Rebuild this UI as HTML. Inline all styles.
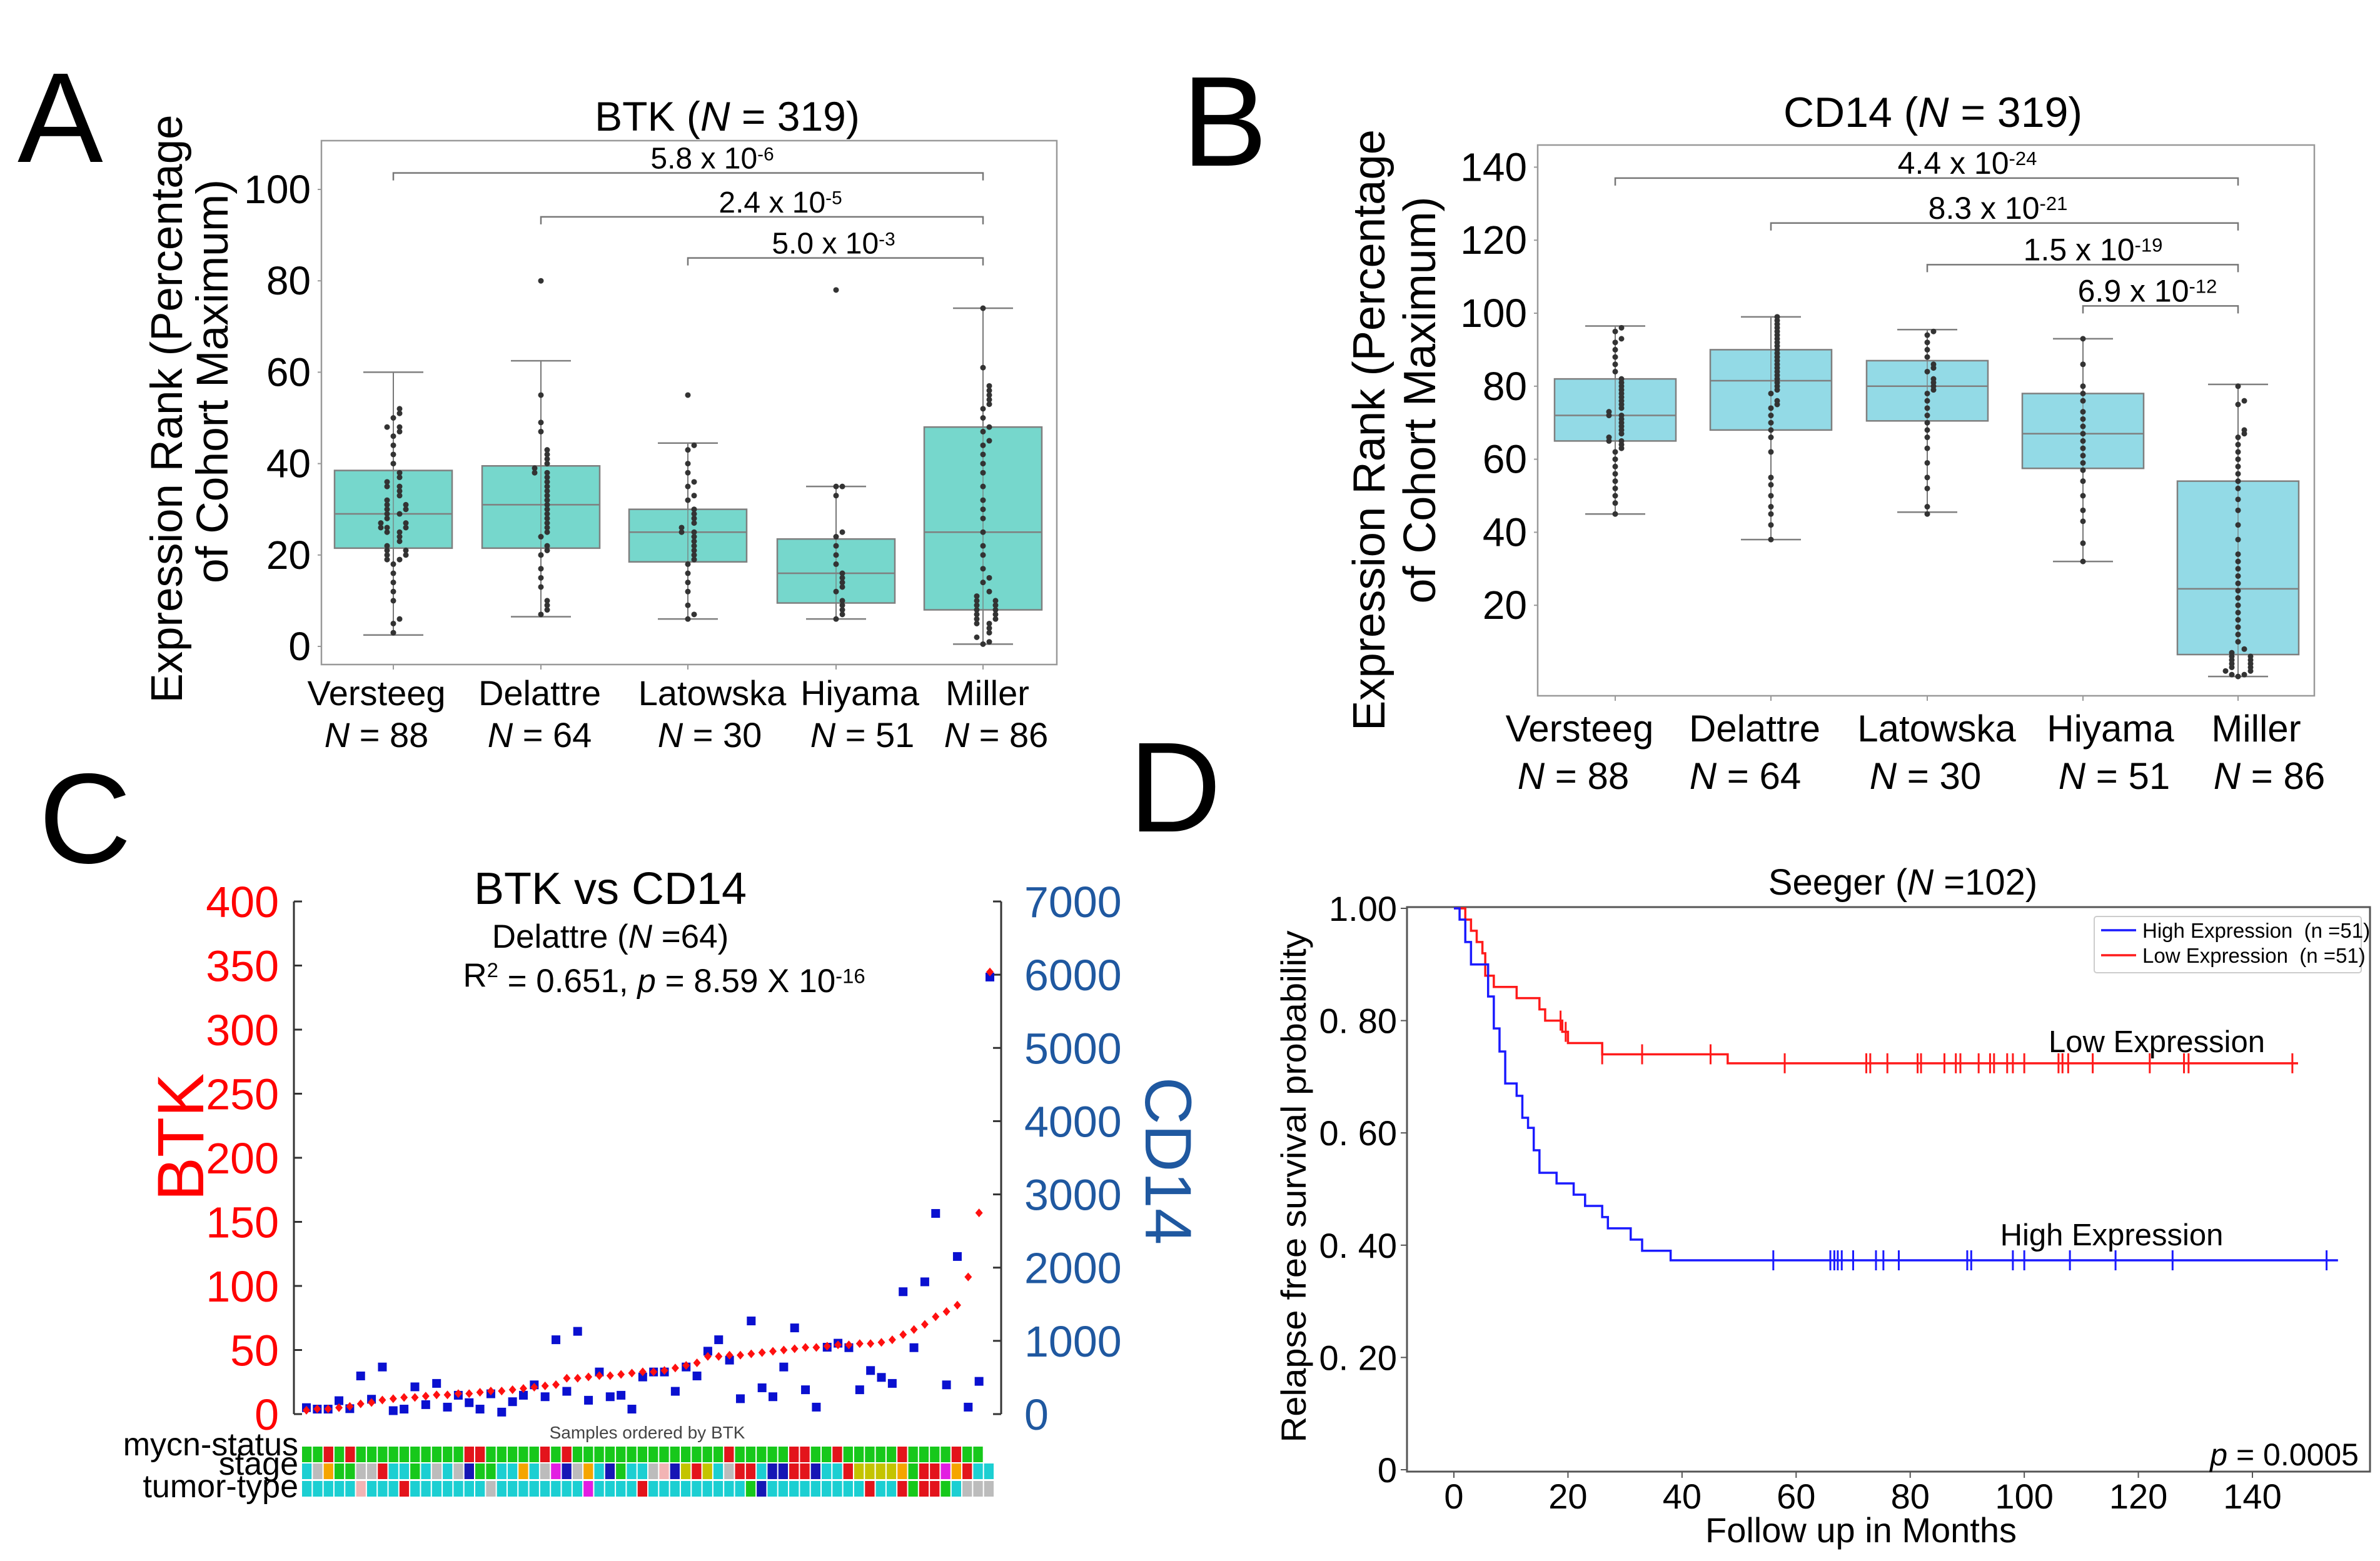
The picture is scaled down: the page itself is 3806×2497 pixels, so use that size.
<!DOCTYPE html>
<html><head><meta charset="utf-8"><style>
html,body{margin:0;padding:0;background:#fff}
svg{display:block;font-family:"Liberation Sans",Arial,sans-serif}
</style></head><body>
<svg id="root" xmlns="http://www.w3.org/2000/svg" width="3806" height="2497" viewBox="0 0 3806 2497">
<rect width="3806" height="2497" fill="#fff"/>
</svg>
<script>
// ---------- Panel A data ----------
const aCats = ["Versteeg","Delattre","Latowska","Hiyama","Miller"];
const aNs = ["88","64","30","51","86"];
const aQ1 = [21.5,21.5,18.5,9.5,8];
const aMed = [29,31,25,16,25];
const aQ3 = [38.5,39.5,30,23.5,48];
const aLo = [2.5,6.5,6,6,0.5];
const aHi = [60,62.5,44.5,35,74];
const aYTicks = [0,20,40,60,80,100];
const aDots = [
 [3,5,6,10,12,14,16,18,19,19,20,20,21,21,22,23,24,25,25,26,26,26,27,27,28,29,29,30,30,31,31,32,33,34,35,35,36,37,38,40,42,44,46,47,48,48,50,51,52],
 [7,8,9,10,13,15,17,20,21,22,24,25,26,27,28,29,30,31,32,33,34,35,36,37,38,38,39,40,41,42,43,47,49,55,80],
 [6,7,9,12,14,16,18,19,20,21,22,23,24,25,25,26,27,28,29,30,32,33,35,36,38,40,43,44,55],
 [6,7,8,9,10,12,13,14,15,16,18,20,22,24,25,33,35,35,78],
 [0.5,1,2,3,4,5,5,6,6,7,7,8,8,9,9,10,10,11,12,14,15,17,20,22,25,28,30,32,35,38,40,42,44,45,47,48,50,52,53,54,55,56,57,61,74]
];
const aBrFrom = [0,1,2];
const aBrTo = [4,4,4];
const aBrY = [103.6,94,85];
const aBrMant = ["5.8","2.4","5.0"];
const aBrExp = ["-6","-5","-3"];
// ---------- Panel B data ----------
const bQ1 = [65,68,70.5,57.5,6.5];
const bMed = [72,81.5,80,67,24.5];
const bQ3 = [82,90,87,78,54];
const bLo = [45,38,45.5,32,0.5];
const bHi = [96.5,99,95.5,93,80.5];
const bYTicks = [20,40,60,80,100,120,140];
const bDots = [
 [45,48,50,52,54,56,58,60,62,63,64,65,65,66,67,68,69,70,71,72,72,73,74,75,76,77,78,79,80,81,82,84,86,88,90,92,93,95,96],
 [38,42,45,47,50,53,55,62,66,68,70,72,74,75,76,78,79,80,81,82,83,84,85,86,87,88,89,90,91,92,93,94,95,96,97,98,99],
 [45,47,52,55,59,63,66,68,70,72,74,76,78,79,80,81,82,84,85,86,88,90,92,94,95],
 [32,37,43,46,50,54,57,59,61,63,65,67,69,71,73,76,78,80,86,93],
 [0.5,1,1,2,2,3,3,4,4,5,5,6,6,7,8,10,12,14,16,18,20,22,24,26,28,30,32,34,38,42,46,49,52,54,56,58,60,62,64,66,67,68,75,76,80]
];
const bBrFrom = [0,1,2,3];
const bBrY = [137,124.7,113.3,102];
const bBrMant = ["4.4","8.3","1.5","6.9"];
const bBrExp = ["-24","-21","-19","-12"];
// ---------- Panel C data ----------
const cBTK = [3,4,4,5,6,8,9,11,12,13,13,14,15,15,16,16,17,18,18,19,20,21,22,23,28,28,29,30,30,31,32,33,33,34,36,38,40,45,45,46,46,47,48,49,50,51,52,52,53,54,54,55,55,56,58,62,66,70,76,80,85,107,157,345];
const cCD14 = [88,68,68,183,74,521,203,643,47,68,372,129,419,95,257,156,68,277,27,169,257,399,237,1015,311,1130,189,575,237,257,68,507,575,575,311,643,521,859,1015,737,210,1272,359,237,643,1177,332,95,913,968,907,332,595,501,419,1671,907,1806,2740,399,2152,95,447,5968];
const cBTKTicks = [0,50,100,150,200,250,300,350,400];
const cCD14Ticks = [0,1000,2000,3000,4000,5000,6000,7000];
const cMycn  = "ggrgrggggggggggrrgggggrgrggggggggggggggrgggggrrggrgggggrggggrgg";
const cStage = "caoggaarccgcacabggccocambaocbgccapbyrycarrcbbrrbccryyyyogrrmorcc";
const cTumor = "cccccpcccrcccccccaccccccccmccccrcccccccccgbcccccccccrccrgrrgcaaa";
// ---------- Panel D data ----------
const dLowT = [2,3,4,5,5.5,7,11,15,16,19,20,26,48];
const dLowS = [0.98,0.96,0.94,0.92,0.88,0.86,0.84,0.82,0.80,0.78,0.76,0.74,0.724];
const dLowEnd = 148;
const dLowCens = [18.7,19.6,26,33,45,58,72.3,73,76,81.3,81.9,86,88,88.8,92,94,94.7,97,98,100,106,106.7,107.7,112,122,128,128.8,147];
const dHighT = [1,2,3,6,7,8,9,11,12,13,14,15,18,21,23,26,27,31,33,38];
const dHighS = [0.98,0.94,0.90,0.843,0.786,0.745,0.688,0.666,0.627,0.609,0.569,0.529,0.51,0.49,0.47,0.45,0.43,0.41,0.39,0.373];
const dHighEnd = 155;
const dHighCens = [56,66,66.7,67.3,68,70,74,75.3,78,90,90.7,98,100,108,116,126,153];
const dXTicks = [0,20,40,60,80,100,120,140];
const dYTicks = [0,0.2,0.4,0.6,0.8,1.0];
const dYLabels = ["0","0. 20","0. 40","0. 60","0. 80","1.00"];

const NS="http://www.w3.org/2000/svg";
const root=document.getElementById('root');
function mk(tag,attrs,parent){const e=document.createElementNS(NS,tag);for(const k in attrs)e.setAttribute(k,attrs[k]);(parent||root).appendChild(e);return e;}
function tx(x,y,html,size,anchor,fill,rot,parent){
  const e=mk('text',{x:x,y:y,'font-size':size,'text-anchor':anchor||'start',fill:fill||'#000'},parent);
  if(rot)e.setAttribute('transform','rotate('+rot+' '+x+' '+y+')');
  e.innerHTML=html;return e;}
const sup=(s)=>'<tspan dy="-0.45em" font-size="0.62em">'+s+'</tspan>';

// ---------- Box panels ----------
function boxPanel(p){
  const g=mk('g',{});
  
  
  const fr=mk('rect',{x:p.x0,y:p.y0,width:p.x1-p.x0,height:p.y1-p.y0,fill:'none',stroke:'#999','stroke-width':2.5},g);
  
  
  p.ticks.forEach(v=>{
    const t=tx(p.x0-17,p.y(v)+22,String(v),p.tickSize,'end','#000',0,g);
    
    
    mk('line',{x1:p.x0-6,x2:p.x0,y1:p.y(v),y2:p.y(v),stroke:'#999','stroke-width':2},g);
  });
  for(let i=0;i<5;i++){
    const cx=p.cx[i],hw=p.hw;
    mk('line',{x1:cx,x2:cx,y1:p.y1,y2:p.y1+8,stroke:'#999','stroke-width':2},g);
    const w=mk('line',{x1:cx,x2:cx,y1:p.y(p.lo[i]),y2:p.y(p.hi[i]),stroke:'#777','stroke-width':2},g);
    
    
    const b=mk('rect',{x:cx-hw,y:p.y(p.q3[i]),width:2*hw,height:p.y(p.q1[i])-p.y(p.q3[i]),fill:p.fill,stroke:'#7f7f7f','stroke-width':2.5},g);
    
    
    mk('line',{x1:cx,x2:cx,y1:p.y(p.q1[i]),y2:p.y(p.q3[i]),stroke:'#777','stroke-width':1.5,opacity:0.8},g);
    const m=mk('line',{x1:cx-hw,x2:cx+hw,y1:p.y(p.med[i]),y2:p.y(p.med[i]),stroke:'#7f7f7f','stroke-width':2.5},g);
    
    
    [p.lo[i],p.hi[i]].forEach(v=>mk('line',{x1:cx-48,x2:cx+48,y1:p.y(v),y2:p.y(v),stroke:'#7f7f7f','stroke-width':2.5},g));
    const placed=[];
    p.dots[i].forEach(v=>{
      let k=placed.filter(u=>Math.abs(u-v)<1.6).length;placed.push(v);
      const off=(k%2?1:-1)*Math.ceil(k/2)*10;
      const d=mk('circle',{cx:cx+off,cy:p.y(v),r:4.5,fill:'#333'},g);
      
      
    });
    const l1=tx(p.lx1[i],p.lb1,aCats[i],p.labSize,'middle','#000',0,g);
    
    
    const l2=tx(p.lx2[i],p.lb2,'<tspan font-style="italic">N</tspan> = '+aNs[i],p.labSize,'middle','#000',0,g);
    
    
  }
  p.br.forEach((br,j)=>{
    const yy=p.y(br.v),xa=p.cx[br.f],xb=p.cx[br.t];
    const pl=mk('polyline',{points:xa+','+(yy+12)+' '+xa+','+yy+' '+xb+','+yy+' '+xb+','+(yy+12),fill:'none',stroke:'#777','stroke-width':2.5},g);
    
    
    const t=tx(br.lx,yy-7,br.m+' x 10'+sup(br.e),p.brSize,'middle','#000',0,g);
    
    
  });
  const ti=tx(p.tx,p.ty,p.title,p.titleSize,'middle','#000',0,g);
  
  
  const y1=tx(p.yl1x,p.yl1c,'Expression Rank (Percentage',p.ylSize,'middle','#000',-90,g);
  y1.setAttribute('textLength',p.yl1len);y1.setAttribute('lengthAdjust','spacingAndGlyphs');
  
  
  const y2=tx(p.yl2x,p.yl2c,'of Cohort Maximum)',p.ylSize,'middle','#000',-90,g);
  y2.setAttribute('textLength',p.yl2len);y2.setAttribute('lengthAdjust','spacingAndGlyphs');
  
  
}
const aY=v=>1034-7.31*v;
boxPanel({name:'panel-a-btk-boxplot',x0:514,x1:1690,y0:225,y1:1063,y:aY,ticks:aYTicks,tickSize:64,cx:[629,865,1100,1337,1572],hw:94,
 q1:aQ1,med:aMed,q3:aQ3,lo:aLo,hi:aHi,dots:aDots,fill:'#76d7cc',
 lx1:[602,863,1139,1375,1579],lx2:[602,863,1135,1379,1593],lb1:1128,lb2:1195,labSize:56,
 br:aBrFrom.map((f,j)=>({f:f,t:aBrTo[j],v:aBrY[j],m:aBrMant[j],e:aBrExp[j],lx:[1139,1248,1333][j]})),brSize:48,
 title:'BTK (<tspan font-style="italic">N</tspan> = 319)',tx:1163,ty:209,titleSize:66,
 yl1x:291,yl1c:654,yl1len:941,yl2x:364,yl2c:610,yl2len:646,ylSize:71});
const bY=v=>1085-5.84*v;
boxPanel({name:'panel-b-cd14-boxplot',x0:2459,x1:3701,y0:232,y1:1113,y:bY,ticks:bYTicks,tickSize:64,cx:[2583,2832,3082,3331,3579],hw:97,
 q1:bQ1,med:bMed,q3:bQ3,lo:bLo,hi:bHi,dots:bDots,fill:'#93dae6',
 lx1:[2526,2806,3097,3375,3608],lx2:[2516,2791,3079,3381,3629],lb1:1186,lb2:1262,labSize:60,
 br:bBrFrom.map((f,j)=>({f:f,t:4,v:bBrY[j],m:bBrMant[j],e:bBrExp[j],lx:[3146,3195,3347,3434][j]})),brSize:50,
 title:'CD14 (<tspan font-style="italic">N</tspan> = 319)',tx:3091,ty:203,titleSize:68,
 yl1x:2214,yl1c:688,yl1len:962,yl2x:2295,yl2c:640,yl2len:651,ylSize:72});

// ---------- Panel letters ----------
[['A',28,259],['B',1890,265],['C',62,1380],['D',1805,1330]].forEach(a=>{
  const t=tx(a[1],a[2],a[0],205,'start','#000');
  
  
});

// ---------- Panel C ----------
(function(){
  const g=mk('g',{});
  
  
  const X0=470,X1=1601,Y0=1442,Y1=2262;
  const yB=v=>Y1-v*(Y1-Y0)/400, yC=v=>Y1-v*(Y1-Y0)/7000;
  const xi=i=>490+i*(1583-490)/(cBTK.length-1);
  const la=mk('line',{x1:X0,x2:X0,y1:Y0,y2:Y1,stroke:'#333','stroke-width':3},g);
  
  
  const ra=mk('line',{x1:X1,x2:X1,y1:Y0,y2:Y1,stroke:'#333','stroke-width':3},g);
  
  
  cBTKTicks.forEach(v=>{
    mk('line',{x1:X0,x2:X0+13,y1:yB(v),y2:yB(v),stroke:'#333','stroke-width':3},g);
    const t=tx(446,yB(v)+25,String(v),70,'end','#ff0000',0,g);
    
    
  });
  cCD14Ticks.forEach(v=>{
    mk('line',{x1:X1,x2:X1-13,y1:yC(v),y2:yC(v),stroke:'#333','stroke-width':3},g);
    const t=tx(1638,yC(v)+25,String(v),70,'start','#1f58a0',0,g);
    
    
  });
  cCD14.forEach((v,i)=>{
    const r=mk('rect',{x:xi(i)-7,y:yC(v)-7,width:14,height:14,fill:'#0a10d0'},g);
    
    
  });
  cBTK.forEach((v,i)=>{
    const c=mk('path',{d:'M'+xi(i)+' '+(yB(v)-7)+' l6 7 l-6 7 l-6 -7z',fill:'#ff1010'},g);
    
    
  });
  const t1=tx(976,1446,'BTK vs CD14',72,'middle','#000',0,g);
  
  
  const t2=tx(976,1516,'Delattre (<tspan font-style="italic">N</tspan> =64)',53,'middle','#000',0,g);
  
  
  const t3=tx(1062,1578,'R'+'<tspan dy="-0.45em" font-size="0.62em">2</tspan><tspan dy="0.45em"> = 0.651, </tspan><tspan font-style="italic">p</tspan> = 8.59 X 10'+sup('-16'),53,'middle','#000',0,g);
  
  
  const bl=tx(325,1819,'BTK',105,'middle','#ff0000',-90,g);
  
  
  const cl=tx(1832,1857,'CD14',105,'middle','#1f58a0',90,g);
  
  
  const so=tx(1035,2301,'Samples ordered by BTK',28,'middle','#444',0,g);
  
  
  const col={c:'#1ccfd2',g:'#17c81b',r:'#e3141b',a:'#bcbcbc',o:'#f5a500',b:'#1616b5',y:'#c4c400',m:'#e21ee2',p:'#f2b4b4'};
  const rows=[['mycn-status',cMycn,2314,2328],['stage',cStage,2341,2359],['tumor-type',cTumor,2369,2395]];
  const cw=(1590-482)/64;
  rows.forEach(r=>{
    const lab=tx(477,r[3],r[0],52,'end','#000',0,g);
    
    
    for(let i=0;i<r[1].length;i++){
      const c=mk('rect',{x:482+i*cw+1,y:r[2],width:cw-2,height:25,fill:col[r[1][i]]},g);
      
      
    }
  });
})();

// ---------- Panel D ----------
(function(){
  const g=mk('g',{});
  
  
  const X0=2250,X1=3790,Y0=1451,Y1=2354;
  const xs=t=>2325+t*(3602-2325)/140, ys=s=>2351-898*s;
  const fr=mk('rect',{x:X0,y:Y0,width:X1-X0,height:Y1-Y0,fill:'none',stroke:'#555','stroke-width':3},g);
  
  
  dYTicks.forEach((v,i)=>{
    mk('line',{x1:X0-10,x2:X0,y1:ys(v),y2:ys(v),stroke:'#555','stroke-width':2},g);
    const t=tx(2234,ys(v)+20,dYLabels[i],56,'end','#000',0,g);
    
    
  });
  dXTicks.forEach(v=>{
    mk('line',{x1:xs(v),x2:xs(v),y1:Y1,y2:Y1+10,stroke:'#555','stroke-width':2},g);
    const t=tx(xs(v),2413,String(v),56,'middle','#000',0,g);
    
    
  });
  function curve(T,S,end,cens,color,name){
    let d='M'+xs(0)+' '+ys(1);
    for(let i=0;i<T.length;i++){d+=' H'+xs(T[i])+' V'+ys(S[i]);}
    d+=' H'+xs(end);
    const p=mk('path',{d:d,fill:'none',stroke:color,'stroke-width':3.5},g);
    
    
    cens.forEach(t=>{
      let s=1;for(let i=0;i<T.length;i++)if(T[i]<=t)s=S[i];
      const c=mk('line',{x1:xs(t),x2:xs(t),y1:ys(s)-16,y2:ys(s)+16,stroke:color,'stroke-width':3},g);
      
      
    });
  }
  curve(dLowT,dLowS,dLowEnd,dLowCens,'#ff1a1a','low-expression-curve');
  curve(dHighT,dHighS,dHighEnd,dHighCens,'#1a1aff','high-expression-curve');
  const ti=tx(3043,1431,'Seeger (<tspan font-style="italic">N</tspan> =102)',58,'middle','#000',0,g);
  
  
  const xt=tx(2976,2467,'Follow up in Months',56,'middle','#000',0,g);
  
  
  const yt=tx(2088,1898,'Relapse free survival probability',56,'middle','#000',-90,g);
  yt.setAttribute('textLength',819);yt.setAttribute('lengthAdjust','spacingAndGlyphs');
  
  
  const lg=mk('g',{},g);
  
  
  mk('rect',{x:3349,y:1466,width:427,height:90,rx:4,fill:'#fff',stroke:'#ccc','stroke-width':2},lg);
  [['High Expression  (n =51)','#1a1aff',1488],['Low Expression  (n =51)','#ff1a1a',1528]].forEach(e=>{
    const ln=mk('line',{x1:3360,x2:3416,y1:e[2],y2:e[2],stroke:e[1],'stroke-width':3.5},lg);
    
    
    const t=tx(3426,e[2]+12,e[0],33,'start','#000',0,lg);
    t.setAttribute('xml:space','preserve');t.style.whiteSpace='pre';
    
    
  });
  const lo=tx(3449,1683,'Low Expression',49,'middle','#000',0,g);
  
  
  const hi=tx(3377,1992,'High Expression',49,'middle','#000',0,g);
  
  
  const pv=tx(3772,2344,'<tspan font-style="italic">p</tspan> = 0.0005',50,'end','#000',0,g);
  
  
})();
</script>
</body></html>
